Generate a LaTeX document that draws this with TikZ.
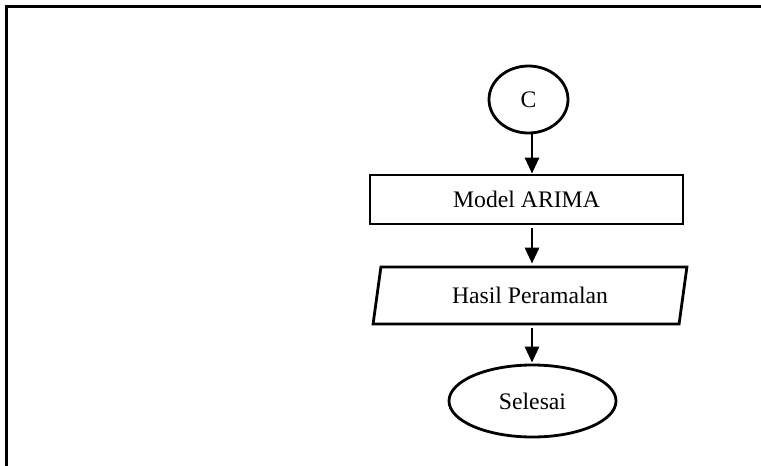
\documentclass[tikz,border=0pt]{standalone}
\usepackage{fontspec}
\setmainfont{Liberation Serif}
\usetikzlibrary{shapes.geometric,arrows.meta}
\begin{document}
\begin{tikzpicture}[x=1pt,y=-1pt,
  every node/.style={font=\fontsize{23.7}{28}\selectfont, inner sep=0pt, line width=2.8pt},
  termnode/.style={draw, ellipse},
  procbox/.style={draw, rectangle},
  iobox/.style={draw, trapezium, trapezium left angle=76.2, trapezium right angle=103.8, trapezium stretches=true},
  arr/.style={line width=2.8pt, -{Triangle[length=16pt,width=14pt]}},
  framebox/.style={line width=3pt}
]
\useasboundingbox (0,0) rectangle (761,466);
\draw[framebox] (6,467) -- (6,6) -- (762,6);
\node[termnode, minimum width=79pt, minimum height=67pt] (c) at (528.5,99.5) {C};
\node[procbox, minimum width=313pt, minimum height=49pt] (model) at (526.5,199.5) {Model ARIMA};
\node[iobox, minimum width=314pt, minimum height=57pt] (hasil) at (530,295.5) {Hasil Peramalan};
\node[termnode, minimum width=167pt, minimum height=72pt] (sel) at (532.5,401) {Selesai};
\coordinate (ax) at (532,0);
\draw[arr] (ax |- c.south) -- (ax |- model.north);
\draw[arr] ([yshift=-3pt]ax |- model.south) -- ([yshift=2pt]ax |- hasil.north);
\draw[arr] ([yshift=-3pt]ax |- hasil.south) -- ([yshift=1pt]ax |- sel.north);
\end{tikzpicture}
\end{document}
